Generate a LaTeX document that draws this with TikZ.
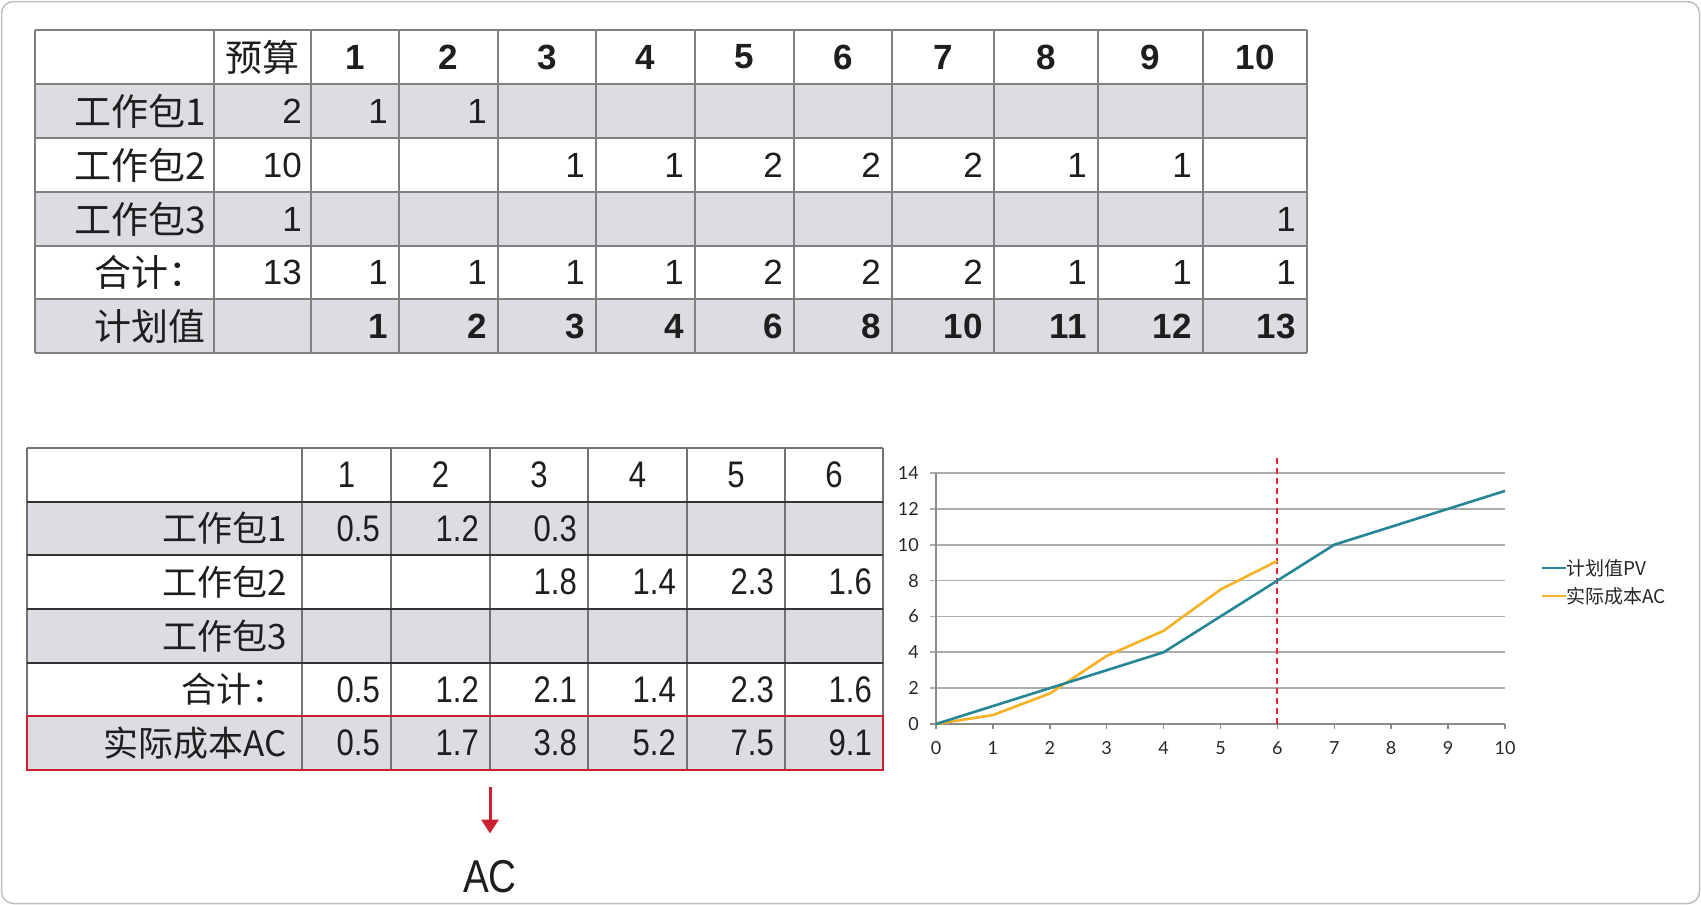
\documentclass[tikz,border=0pt]{standalone}
\usepackage{fontspec}
\setmainfont{Liberation Sans}
\newfontfamily\cjk{Noto Sans CJK SC}
\newfontfamily\narrowsans[FakeStretch=0.84]{Liberation Sans}
\newfontfamily\chartsans{Lato}
\usetikzlibrary{arrows.meta,positioning}
\definecolor{rowgray}{RGB}{220,221,226}
\definecolor{gridgray}{RGB}{128,128,128}
\definecolor{linedark}{RGB}{52,52,52}
\definecolor{boxred}{RGB}{204,32,48}
\definecolor{dashred}{RGB}{228,40,52}
\definecolor{pvteal}{RGB}{36,134,151}
\definecolor{acorange}{RGB}{246,177,36}
\definecolor{chartgray}{RGB}{172,172,172}
\definecolor{inkgray}{RGB}{30,30,30}
\tikzstyle{frame}=[draw=black!25, line width=1.5pt, rounded corners=12pt]
\tikzstyle{topgrid}=[draw=gridgray, line width=1.6pt]
\tikzstyle{botgrid}=[draw=gridgray!90!black, line width=1.6pt]
\tikzstyle{botrule}=[draw=linedark, line width=2.2pt]
\tikzstyle{toplabel}=[anchor=east, inner xsep=8pt, inner ysep=0pt, text=inkgray, font=\cjk\fontsize{37}{37}\selectfont]
\tikzstyle{topnum}=[anchor=east, inner xsep=11pt, inner ysep=0pt, text=inkgray, font=\fontsize{35}{35}\selectfont]
\tikzstyle{tophead}=[inner sep=0pt, text=inkgray, font=\bfseries\fontsize{35}{35}\selectfont]
\tikzstyle{botlabel}=[anchor=east, inner xsep=15pt, inner ysep=0pt, text=inkgray, font=\cjk\fontsize{35}{35}\selectfont]
\tikzstyle{botnum}=[anchor=east, inner xsep=11pt, inner ysep=0pt, text=inkgray, font=\narrowsans\fontsize{37}{37}\selectfont]
\tikzstyle{bothead}=[inner sep=0pt, text=inkgray, font=\narrowsans\fontsize{37}{37}\selectfont]
\tikzstyle{acbox}=[draw=boxred, line width=2.4pt]
\tikzstyle{acarrow}=[draw=boxred, line width=3pt, -{Triangle[width=17pt,length=14pt]}, shorten >=27pt]
\tikzstyle{acnote}=[inner sep=0pt, text=inkgray, font=\narrowsans\fontsize{46}{46}\selectfont]
\tikzstyle{chartgrid}=[draw=chartgray, line width=1.8pt]
\tikzstyle{chartaxis}=[draw=chartgray!80!black, line width=1.5pt]
\tikzstyle{tick}=[inner sep=0pt, text=black!85, font=\chartsans\fontsize{18}{18}\selectfont]
\tikzstyle{pvline}=[draw=pvteal, line width=2.6pt, line join=round]
\tikzstyle{acline}=[draw=acorange, line width=2.6pt, line join=round]
\tikzstyle{nowline}=[draw=dashred, line width=2pt, dash pattern=on 6pt off 4pt]
\tikzstyle{legend}=[anchor=west, inner sep=0pt, text=black!85, font=\cjk\fontsize{19}{19}\selectfont]
\begin{document}
\begin{tikzpicture}[x=1pt,y=-1pt]
    \useasboundingbox (0,0) rectangle (1701,905);
    \draw[frame] (1.5,1.5) rectangle (1699.5,903.5);

    % Planned value table: shaded rows and grid
    \foreach \top in {84,192,299}
        \fill[rowgray] (35,\top) rectangle (1307,\top+54);
    \foreach \y in {30,84,138,192,246,299,353}
        \draw[topgrid] (35,\y) -- (1307,\y);
    \foreach \x in {35,214,311,399,498,596,695,794,892,994,1098,1203,1307}
        \draw[topgrid] (\x,30) -- (\x,353);
    % column and row anchors
    \coordinate (tlab) at (214,0);
    \coordinate (tbud) at (311,0);
    \foreach \r [count=\i] in {399,498,596,695,794,892,994,1098,1203,1307}
        \coordinate (tc\i) at (\r,0);
    \foreach \y [count=\r] in {111,165,219,272.5,326}
        \coordinate (tr\r) at (0,\y);
    % header
    \node[inner sep=0pt, text=inkgray, font=\cjk\fontsize{37}{37}\selectfont] (thbud) at (262.5,57) {预算};
    \foreach \l/\r [count=\i] in {311/399,399/498,498/596,596/695,695/794,794/892,892/994,994/1098,1098/1203,1203/1307}
        \node[tophead] (th\i) at ({(\l+\r)/2},57) {\i};
    % labels and budget
    \foreach \lbl/\bud [count=\r] in {工作包1/2,工作包2/10,工作包3/1,合计：/13}
    {
        \node[toplabel] (tl\r) at (tlab |- tr\r) {\lbl};
        \node[topnum, inner xsep=9pt] (tb\r) at (tbud |- tr\r) {\bud};
    }
    \node[toplabel] (tl5) at (tlab |- tr5) {计划值};
    % cell values
    \foreach \r/\c/\v in {1/1/1,1/2/1,
                          2/3/1,2/4/1,2/5/2,2/6/2,2/7/2,2/8/1,2/9/1,
                          3/10/1,
                          4/1/1,4/2/1,4/3/1,4/4/1,4/5/2,4/6/2,4/7/2,4/8/1,4/9/1,4/10/1}
        \node[topnum] (t\r-\c) at (tc\c |- tr\r) {\v};
    \foreach \v [count=\c] in {1,2,3,4,6,8,10,11,12,13}
        \node[topnum, font=\bfseries\fontsize{35}{35}\selectfont] (tp\c) at (tc\c |- tr5) {\v};

    % Actual cost table
    \foreach \top in {502,609,716}
        \fill[rowgray] (27,\top) rectangle (883,\top+54);
    \draw[botgrid] (27,448) -- (883,448);
    \foreach \x in {27,302,391,490,588,687,785,883}
        \draw[botgrid] (\x,448) -- (\x,770);
    \foreach \y in {502,555,609,663,716}
        \draw[botrule] (27,\y) -- (883,\y);
    \coordinate (blab) at (302,0);
    \foreach \r [count=\i] in {391,490,588,687,785,883}
        \coordinate (bc\i) at (\r,0);
    \foreach \y [count=\r] in {528.5,582,636,689.5,743}
        \coordinate (br\r) at (0,\y);
    \foreach \l/\r [count=\i] in {302/391,391/490,490/588,588/687,687/785,785/883}
        \node[bothead] (bh\i) at ({(\l+\r)/2},475) {\i};
    \foreach \lbl [count=\r] in {工作包1,工作包2,工作包3,合计：,实际成本AC}
        \node[botlabel] (bl\r) at (blab |- br\r) {\lbl};
    \foreach \r/\c/\v in {1/1/0.5,1/2/1.2,1/3/0.3,
                          2/3/1.8,2/4/1.4,2/5/2.3,2/6/1.6,
                          4/1/0.5,4/2/1.2,4/3/2.1,4/4/1.4,4/5/2.3,4/6/1.6,
                          5/1/0.5,5/2/1.7,5/3/3.8,5/4/5.2,5/5/7.5,5/6/9.1}
        \node[botnum] (b\r-\c) at (bc\c |- br\r) {\v};
    \draw[acbox] (27,716) rectangle (883,770);

    % arrow down to AC
    \coordinate (arrtop) at (490,787);
    \node[acnote] (acnote) at (490,877) {AC};
    \draw[acarrow] (arrtop) -- (acnote);

    % Chart of PV and AC
    \begin{scope}[shift={(936,724)}, x=56.9pt, y=17.93pt]
        \foreach \v in {2,4,...,14}
            \draw[chartgrid] (-0.1,\v) -- (10,\v);
        \draw[chartaxis] (-0.1,0) -- (10,0);
        \draw[chartaxis] (0,0) -- (0,14);
        \foreach \i in {0,...,10}
        {
            \draw[chartaxis] (\i,0) -- (\i,-0.3);
            \node[tick] (xt\i) at (\i,-1.35) {\i};
        }
        \foreach \v in {0,2,...,14}
            \node[tick, anchor=east] (yt\v) at (-0.3,\v) {\v};
        \draw[nowline] (6,0) -- (6,15);
        \draw[acline] plot coordinates {(0,0) (1,0.5) (2,1.7) (3,3.8) (4,5.2) (5,7.5) (6,9.1)};
        \draw[pvline] plot coordinates {(0,0) (1,1) (2,2) (3,3) (4,4) (5,6) (6,8) (7,10) (8,11) (9,12) (10,13)};
    \end{scope}
    % legend
    \node[legend] (lgpv) at (1566,568) {计划值PV};
    \node[legend] (lgac) at (1566,596) {实际成本AC};
    \draw[pvline] (1542,568) -- (lgpv.west);
    \draw[acline] (1542,596) -- (lgac.west);
\end{tikzpicture}
\end{document}
